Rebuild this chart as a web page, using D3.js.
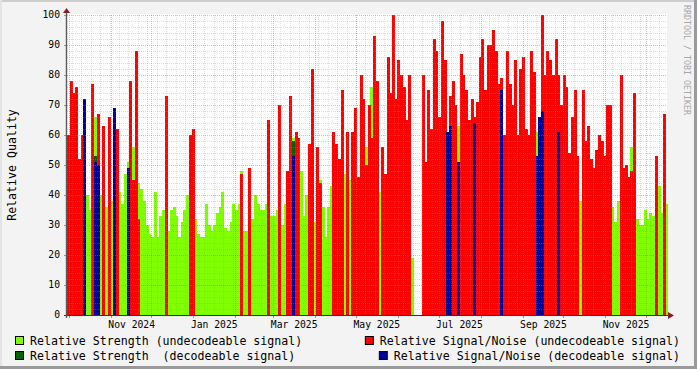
<!DOCTYPE html>
<html>
<head>
<meta charset="utf-8">
<script src="https://cdn.jsdelivr.net/npm/d3@7"></script>
<style>
  body { margin: 0; background: #fff; }
  svg { display: block; }
  text { font-family: "DejaVu Sans Mono", monospace; }
</style>
</head>
<body>
<div id="chart"></div>
<script>
// time window of the graph and width of one consolidated bin
const startTime = new Date(Date.UTC(2024, 8, 29, 6));
const endTime = new Date(Date.UTC(2025, 11, 16, 6));
const binDays = 2;

// Relative Strength (undecodeable signal), one value per 2-day bin, 0 = no data
const strength = [
  0, 0, 0, 0, 39, 0, 0, 40, 35, 0,
  66, 0, 40, 0, 36, 0, 38, 0, 44, 41,
  37, 47, 51, 0, 56, 0, 44, 42, 38, 30,
  27, 26, 41, 26, 33, 35, 0, 28, 35, 36,
  33, 26, 31, 35, 40, 0, 0, 32, 27, 26,
  26, 37, 30, 28, 30, 34, 36, 41, 29, 28,
  31, 37, 35, 37, 48, 28, 28, 26, 32, 40,
  37, 35, 35, 37, 37, 33, 33, 35, 0, 30,
  37, 43, 0, 59, 0, 0, 48, 33, 40, 40,
  38, 31, 39, 45, 36, 26, 36, 43, 0, 45,
  0, 0, 47, 0, 45, 0, 0, 37, 0, 36,
  56, 0, 76, 0, 0, 41, 0, 38, 0, 0,
  0, 0, 0, 0, 0, 0, 0, 19, 0, 0,
  0, 0, 42, 0, 0, 0, 0, 0, 0, 0,
  0, 0, 0, 0, 63, 0, 0, 0, 0, 0,
  0, 0, 0, 0, 0, 0, 0, 0, 0, 0,
  0, 0, 0, 0, 0, 0, 0, 0, 0, 0,
  0, 0, 0, 61, 0, 0, 0, 0, 0, 0,
  0, 0, 0, 0, 0, 0, 0, 0, 0, 38,
  0, 0, 0, 0, 0, 0, 0, 0, 0, 0,
  0, 36, 31, 38, 0, 40, 0, 41, 56, 0,
  32, 30, 30, 35, 32, 34, 33, 33, 43, 34,
  0, 37
];

// Relative Signal/Noise (undecodeable signal)
const snr = [
  60, 78, 74, 76, 52, 60, 65, 0, 0, 77,
  0, 67, 0, 63, 0, 66, 0, 0, 62, 0,
  0, 0, 0, 78, 45, 88, 32, 0, 0, 0,
  0, 0, 0, 0, 0, 0, 73, 0, 0, 0,
  0, 0, 0, 0, 0, 60, 62, 0, 0, 0,
  0, 0, 0, 0, 0, 0, 0, 0, 0, 0,
  0, 0, 0, 0, 47, 0, 0, 49, 0, 0,
  0, 0, 0, 0, 65, 0, 0, 0, 70, 0,
  0, 48, 73, 0, 61, 59, 0, 0, 0, 57,
  82, 0, 56, 44, 0, 0, 0, 0, 61, 57,
  52, 75, 0, 61, 0, 61, 69, 46, 80, 72,
  50, 70, 59, 93, 78, 0, 56, 47, 86, 74,
  100, 72, 85, 80, 76, 65, 80, 0, 0, 0,
  0, 80, 51, 75, 62, 92, 88, 66, 98, 85,
  0, 73, 78, 70, 0, 87, 80, 75, 65, 72,
  66, 71, 86, 92, 75, 90, 90, 95, 88, 77,
  79, 60, 88, 77, 70, 85, 60, 82, 86, 62,
  60, 88, 81, 0, 0, 100, 80, 88, 85, 80,
  92, 80, 70, 80, 76, 54, 66, 75, 53, 0,
  75, 58, 63, 52, 49, 55, 60, 58, 53, 70,
  70, 0, 0, 0, 80, 49, 50, 46, 48, 74,
  0, 0, 0, 0, 0, 0, 0, 53, 0, 0,
  67, 0
];

// decodeable bins are rare, kept as [bin, value]
const strengthDec = [[10, 53], [83, 58], [140, 51], [174, 58], [182, 51]];
const snrDec = [
  [6, 72], [10, 51], [11, 50], [17, 69], [22, 49], [83, 53], [140, 61], [141, 63],
  [144, 51], [150, 64], [160, 75], [173, 53], [174, 66], [175, 68], [181, 61]
];

const yTicks = d3.range(0, 101, 10);
const legendLeft = ['Relative Strength (undecodeable signal)', 'Relative Strength  (decodeable signal)'];
const legendRight = ['Relative Signal/Noise (undecodeable signal)', 'Relative Signal/Noise (decodeable signal)'];

const W = 697, H = 369;
const plot = { left: 67, right: 667, top: 15, bottom: 315 };
const colors = { str: '#7fff00', strDec: '#006400', snr: '#ff0000', snrDec: '#000099' };

const x = d3.scaleUtc().domain([startTime, endTime]).range([plot.left, plot.right]);
const y = d3.scaleLinear().domain([0, 100]).range([plot.bottom, plot.top]);

const svg = d3.select('#chart').append('svg')
    .attr('width', W)
    .attr('height', H);

// background and bevel
svg.append('rect').attr('width', W).attr('height', H).attr('fill', '#f3f3f3');
svg.append('rect').attr('x', 0).attr('y', 0).attr('width', W).attr('height', 2).attr('fill', '#cdcdcd');
svg.append('rect').attr('x', 0).attr('y', 0).attr('width', 2).attr('height', H).attr('fill', '#e4e4e4');
svg.append('rect').attr('x', W - 3).attr('y', 0).attr('width', 3).attr('height', H).attr('fill', '#9a9a9a');
svg.append('rect').attr('x', 0).attr('y', H - 3).attr('width', W).attr('height', 3).attr('fill', '#9a9a9a');

// canvas
svg.append('rect')
    .attr('x', plot.left).attr('y', plot.top - 1)
    .attr('width', plot.right - plot.left).attr('height', plot.bottom - plot.top + 1)
    .attr('fill', '#ffffff');

svg.append('clipPath').attr('id', 'clip')
  .append('rect')
    .attr('x', plot.left).attr('y', plot.top - 1)
    .attr('width', plot.right - plot.left + 1).attr('height', plot.bottom - plot.top + 1);

const binStart = i => d3.utcDay.offset(startTime, i * binDays);
const toBins = arr => arr.map((v, i) => ({ i, v })).filter(d => d.v > 0);
const pairBins = arr => arr.map(([i, v]) => ({ i, v }));

const bars = svg.append('g').attr('clip-path', 'url(#clip)').attr('shape-rendering', 'crispEdges');

function drawSeries(data, color) {
  bars.append('g').selectAll('rect')
    .data(data)
    .join('rect')
      .attr('x', d => x(binStart(d.i)))
      .attr('width', d => x(binStart(d.i + 1)) - x(binStart(d.i)) + 0.3)
      .attr('y', d => y(d.v))
      .attr('height', d => y(0) - y(d.v))
      .attr('fill', color);
}

// same stacking order as the rrd graph: strength behind, signal/noise on top
drawSeries(toBins(strength), colors.str);
drawSeries(pairBins(strengthDec), colors.strDec);
drawSeries(toBins(snr), colors.snr);
drawSeries(pairBins(snrDec), colors.snrDec);

// dotted grid, drawn over the data like rrdtool does
const grid = svg.append('g').attr('shape-rendering', 'crispEdges');
const minorColor = 'rgba(150,150,150,0.32)';
const majorColor = 'rgba(222,90,90,0.45)';
const minorY = d3.range(0, 101, 2).filter(v => v % 10 !== 0);
grid.selectAll('.hminor').data(minorY).join('line')
    .attr('x1', plot.left).attr('x2', plot.right)
    .attr('y1', d => y(d)).attr('y2', d => y(d))
    .attr('stroke', minorColor).attr('stroke-dasharray', '1,1');

const weeks = d3.utcThursday.range(startTime, endTime);
grid.selectAll('.vminor').data(weeks).join('line')
    .attr('x1', d => x(d)).attr('x2', d => x(d))
    .attr('y1', plot.top).attr('y2', plot.bottom)
    .attr('stroke', minorColor).attr('stroke-dasharray', '1,1');

grid.selectAll('.hmajor').data(yTicks.filter(v => v > 0)).join('line')
    .attr('x1', plot.left).attr('x2', plot.right)
    .attr('y1', d => y(d)).attr('y2', d => y(d))
    .attr('stroke', majorColor).attr('stroke-dasharray', '1,1');

const months = d3.utcMonth.range(startTime, endTime);
grid.selectAll('.vmajor').data(months).join('line')
    .attr('x1', d => x(d)).attr('x2', d => x(d))
    .attr('y1', plot.top).attr('y2', plot.bottom)
    .attr('stroke', majorColor).attr('stroke-dasharray', '1,1');

// little ticks on the axes
grid.selectAll('.xtick').data(months).join('line')
    .attr('x1', d => x(d)).attr('x2', d => x(d))
    .attr('y1', plot.bottom).attr('y2', plot.bottom + 3)
    .attr('stroke', 'rgba(222,90,90,0.8)');
grid.selectAll('.ytick').data(yTicks).join('line')
    .attr('x1', plot.left - 3).attr('x2', plot.left)
    .attr('y1', d => y(d)).attr('y2', d => y(d))
    .attr('stroke', 'rgba(222,90,90,0.8)');

// axes with arrows
svg.append('line')
    .attr('x1', plot.left - 3).attr('x2', plot.right + 2)
    .attr('y1', plot.bottom + 0.5).attr('y2', plot.bottom + 0.5)
    .attr('stroke', '#2f2f45').attr('stroke-width', 1.2);
svg.append('line')
    .attr('x1', plot.left - 0.5).attr('x2', plot.left - 0.5)
    .attr('y1', plot.bottom + 3).attr('y2', plot.top - 4)
    .attr('stroke', '#5a5a5a').attr('stroke-width', 1.4);
svg.append('path')
    .attr('d', `M${plot.right + 1},${plot.bottom - 3} L${plot.right + 7},${plot.bottom + 0.5} L${plot.right + 1},${plot.bottom + 4} Z`)
    .attr('fill', '#8b1c1c');
svg.append('path')
    .attr('d', `M${plot.left - 4},${plot.top - 2} L${plot.left - 0.5},${plot.top - 7} L${plot.left + 3},${plot.top - 2} Z`)
    .attr('fill', '#8b1c1c');

// tick labels
svg.append('g').selectAll('text').data(yTicks).join('text')
    .attr('x', 60).attr('y', d => y(d))
    .attr('dy', '0.35em')
    .attr('text-anchor', 'end')
    .attr('font-size', '9.7px')
    .attr('fill', '#000')
    .text(d => d);

const labelMonths = d3.utcMonth.every(2).range(startTime, endTime);
const fmt = d3.utcFormat('%b %Y');
svg.append('g').selectAll('text').data(labelMonths).join('text')
    .attr('x', d => x(d3.utcDay.offset(d, 15)))
    .attr('y', 328)
    .attr('text-anchor', 'middle')
    .attr('font-size', '9.7px')
    .attr('fill', '#000')
    .text(d => fmt(d));

// y axis title
svg.append('text')
    .attr('transform', `translate(16,${(plot.top + plot.bottom) / 2}) rotate(-90)`)
    .attr('text-anchor', 'middle')
    .attr('font-size', '11.6px')
    .attr('fill', '#000')
    .text('Relative Quality');

// watermark
svg.append('text')
    .attr('transform', 'translate(684,5) rotate(90)')
    .attr('font-size', '8.3px')
    .attr('fill', '#a8a8a8')
    .text('RRDTOOL / TOBI OETIKER');

// legend
const legend = svg.append('g').attr('font-size', '11.6px');
const legendRows = [345, 360];
const leftColors = [colors.str, colors.strDec];
const rightColors = [colors.snr, colors.snrDec];

legendLeft.forEach((label, k) => {
  legend.append('rect')
      .attr('x', 15.5).attr('y', legendRows[k] - 8.5)
      .attr('width', 8).attr('height', 8)
      .attr('fill', leftColors[k]).attr('stroke', '#000');
  legend.append('text')
      .attr('x', 30).attr('y', legendRows[k])
      .style('white-space', 'pre')
      .text(label);
});

legendRight.forEach((label, k) => {
  const t = legend.append('text')
      .attr('x', 680).attr('y', legendRows[k])
      .attr('text-anchor', 'end')
      .style('white-space', 'pre')
      .text(label);
  const w = t.node().getComputedTextLength();
  legend.append('rect')
      .attr('x', 680 - w - 14.5).attr('y', legendRows[k] - 8.5)
      .attr('width', 8).attr('height', 8)
      .attr('fill', rightColors[k]).attr('stroke', '#000');
});
</script>
</body>
</html>
